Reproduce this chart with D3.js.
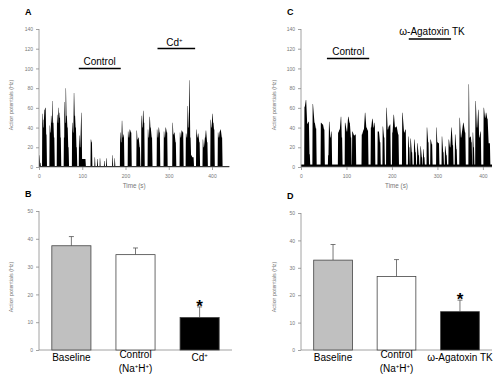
<!DOCTYPE html>
<html>
<head>
<meta charset="utf-8">
<script src="https://cdn.jsdelivr.net/npm/d3@7"></script>
<style>
body { margin: 0; background: #fff; }
text { font-family: "Liberation Sans", Arial, sans-serif; }
</style>
</head>
<body>
<div id="chart"></div>
<script>
// spike bursts: [time (s), rate (Hz)]
var burstsA = [
  [[1,12],[3,4]],
  [[8,54],[10,40],[11,48],[13,58],[15,60],[17,33]],
  [[25,42],[27,35],[28,52],[30,45],[31,67],[33,45],[35,30]],
  [[42,53],[44,45],[45,60],[47,50],[48,55],[50,30]],
  [[58,30],[59,66],[61,45],[62,80],[64,52],[66,40],[68,20]],
  [[77,45],[79,35],[81,75],[83,52],[85,40],[87,20]],
  [[93,32],[95,20],[98,55],[100,8],[104,8],[107,8]],
  [[120,28],[122,25]],
  [[129,10]], [[135,8]], [[141,9]], [[151,6]], [[156,9]], [[170,12]], [[175,9]],
  [[188,35],[190,25],[192,47],[194,30],[196,33]],
  [[206,36],[208,30],[210,38],[213,35]],
  [[226,37],[228,28],[230,30],[233,20]],
  [[237,52],[239,40],[241,57],[243,45]],
  [[252,38],[254,30],[256,51],[258,40],[261,30]],
  [[273,38],[275,30],[277,40],[279,35]],
  [[289,36],[291,30],[293,40],[296,35]],
  [[309,45],[311,33],[313,35],[316,25]],
  [[326,35],[328,30],[330,37],[333,35]],
  [[340,34],[342,30],[344,62],[346,40],[348,88],[350,30],[352,12],[355,10],[357,10]],
  [[364,38],[366,30],[368,34],[371,25]],
  [[379,28],[381,20],[384,30],[386,37],[389,25]],
  [[397,48],[399,40],[401,54],[403,45],[405,38]],
  [[414,35],[416,30],[418,36],[420,38],[423,30]]
];
var burstsC = [
  [[8,61],[11,68],[14,44],[17,46],[19,13]],
  [[26,64],[30,45],[33,39]],
  [[44,45],[48,43],[51,38]],
  [[60,12],[62,46],[65,30],[67,36]],
  [[82,35],[85,38],[88,51],[90,30]],
  [[97,45],[101,36],[104,51],[107,45],[110,30]],
  [[113,36],[117,32],[120,33]],
  [[134,33],[138,38],[141,55],[144,40],[147,37]],
  [[154,40],[157,49],[160,40],[162,45]],
  [[169,36],[171,36],[174,25]],
  [[180,41],[183,30]],
  [[188,60],[191,38],[193,41],[196,43]],
  [[201,35],[204,53],[207,40],[210,41],[214,33]],
  [[223,55],[227,35],[230,38]],
  [[236,31],[238,20]],
  [[241,29],[244,15]],
  [[249,28],[252,15]],
  [[256,24],[259,12]],
  [[263,21],[266,10]],
  [[269,18],[271,10]],
  [[277,40],[280,25]],
  [[285,28],[288,23]],
  [[298,40],[300,25],[303,24]],
  [[310,31],[313,15]],
  [[317,21],[320,12]],
  [[325,28],[328,20],[331,40],[334,22]],
  [[339,33],[342,18]],
  [[349,50],[352,30],[357,45],[361,35]],
  [[369,84],[371,30],[373,31],[375,25]],
  [[378,35],[380,20]],
  [[384,67],[387,40],[390,58],[392,30],[395,36]],
  [[402,60],[405,50],[407,55],[410,49],[413,24],[415,24]]
];
var baseA = 1, baseC = 2.5;
var timeTicks = [0, 100, 200, 300, 400];
var rateTicks = [0, 20, 40, 60, 80, 100, 120, 140];
var meanTicks = [0, 10, 20, 30, 40, 50];

var groupsB = ["Baseline", "Control", "Cd"];
var meansB = [37.5, 34.3, 11.7];
var errB = [3.3, 2.4, 3.8];
var groupsD = ["Baseline", "Control", "Agatoxin"];
var meansD = [32.8, 26.8, 14.0];
var errD = [5.7, 6.2, 4.2];
var barFills = ["#c0c0c0", "#ffffff", "#000000"];

var svg = d3.select("#chart").append("svg").attr("width", 500).attr("height", 378);
var axisCol = "#8a8a8a", tickCol = "#777";

function yAxisTitle(x, y) {
  svg.append("text").attr("transform", "translate(" + x + "," + y + ") rotate(-90)")
    .attr("text-anchor", "middle").attr("font-size", "5.3px").attr("fill", tickCol)
    .text("Action potentials (Hz)");
}

function styleAxis(g) {
  g.selectAll("path, line").attr("stroke", axisCol).attr("stroke-width", 0.8);
  g.selectAll("text").attr("font-size", "5px").attr("fill", tickCol)
    .attr("font-family", "Liberation Sans, Arial, sans-serif");
}

function trace(bursts, base, x, y) {
  var area = d3.area().x(function(d){ return x(d[0]); }).y0(y(0)).y1(function(d){ return y(d[1]); });
  svg.append("rect").attr("x", x(0)).attr("y", y(base)).attr("width", x.range()[1] - x(0))
    .attr("height", y(0) - y(base)).attr("fill", "#000");
  bursts.forEach(function(b) {
    var pts = [[b[0][0] - 1, 0]];
    b.forEach(function(p){ pts.push([p[0] - 0.4, p[1]]); pts.push([p[0] + 0.4, p[1]]); });
    pts.push([b[b.length - 1][0] + 1.5, 0]);
    svg.append("path").attr("d", area(pts)).attr("fill", "#000");
  });
  var gx = svg.append("g").attr("transform", "translate(0," + y(0) + ")")
    .call(d3.axisBottom(x).tickValues(timeTicks).tickSize(3).tickPadding(4));
  styleAxis(gx);
  var gy = svg.append("g").attr("transform", "translate(" + x(0) + ",0)")
    .call(d3.axisLeft(y).tickValues(rateTicks).tickSize(3).tickPadding(3));
  styleAxis(gy);
  gx.select(".domain").attr("d", "M" + x(0) + ",0H" + x.range()[1]);
  gy.select(".domain").attr("d", "M0," + y(0) + "V" + y(140));
  svg.append("text").attr("x", (x(0) + x.range()[1]) / 2).attr("y", y(0) + 21)
    .attr("text-anchor", "middle").attr("font-size", "6.3px").attr("fill", tickCol).text("Time (s)");
}

function bars(groups, means, errs, x, y) {
  var gy = svg.append("g").attr("transform", "translate(" + x.range()[0] + ",0)")
    .call(d3.axisLeft(y).tickValues(meanTicks).tickSize(3).tickPadding(3));
  styleAxis(gy);
  gy.select(".domain").attr("d", "M0," + y(0) + "V" + y(50));
  svg.append("line").attr("x1", x.range()[0]).attr("x2", x.range()[1])
    .attr("y1", y(0)).attr("y2", y(0)).attr("stroke", axisCol).attr("stroke-width", 0.8);
  groups.forEach(function(g, i) {
    var cx = x(g) + x.bandwidth() / 2;
    svg.append("line").attr("x1", cx).attr("x2", cx).attr("y1", y(means[i]))
      .attr("y2", y(means[i] + errs[i])).attr("stroke", "#555").attr("stroke-width", 0.8);
    svg.append("line").attr("x1", cx - 2.5).attr("x2", cx + 2.5).attr("y1", y(means[i] + errs[i]))
      .attr("y2", y(means[i] + errs[i])).attr("stroke", "#555").attr("stroke-width", 0.8);
    svg.append("rect").attr("x", x(g)).attr("y", y(means[i])).attr("width", x.bandwidth())
      .attr("height", y(0) - y(means[i])).attr("fill", barFills[i])
      .attr("stroke", "#444").attr("stroke-width", 0.8);
  });
}

function label(txt, x, y, size, anchor, weight) {
  return svg.append("text").attr("x", x).attr("y", y).attr("font-size", size + "px")
    .attr("text-anchor", anchor || "start").attr("font-weight", weight || "normal").text(txt);
}

function supLabel(main, sup, x, y, size, anchor, tail) {
  var t = svg.append("text").attr("x", x).attr("y", y).attr("font-size", size + "px")
    .attr("text-anchor", anchor || "start");
  t.append("tspan").text(main);
  t.append("tspan").attr("font-size", (size * 0.6) + "px").attr("dy", -size * 0.38).text(sup);
  if (tail) t.append("tspan").attr("dy", size * 0.38).text(tail);
  return t;
}

function treatmentBar(x, t0, t1, yy) {
  svg.append("line").attr("x1", x(t0)).attr("x2", x(t1)).attr("y1", yy).attr("y2", yy)
    .attr("stroke", "#000").attr("stroke-width", 1.6);
}

// Panel A
var xA = d3.scaleLinear().domain([0, 440]).range([39, 229.3]);
var yA = d3.scaleLinear().domain([0, 140]).range([167, 29]);
trace(burstsA, baseA, xA, yA);
yAxisTitle(13, 105);
label("A", 25, 15, 9, "start", "bold");
label("Control", xA(140), 65, 10, "middle");
treatmentBar(xA, 92, 189, 68.5);
supLabel("Cd", "+", xA(313), 46, 10, "middle");
treatmentBar(xA, 274, 361, 48.5);

// Panel C
var xC = d3.scaleLinear().domain([0, 420]).range([301, 492]);
var yC = d3.scaleLinear().domain([0, 140]).range([167, 29]);
trace(burstsC, baseC, xC, yC);
yAxisTitle(276, 105);
label("C", 287, 15, 9, "start", "bold");
label("Control", xC(104), 55, 10, "middle");
treatmentBar(xC, 57, 150, 58.5);
label("\u03c9-Agatoxin TK", xC(288), 35, 10, "middle");
treatmentBar(xC, 237, 330, 39);

// Panel B
var xB = d3.scaleBand().domain(groupsB).range([39, 232]).paddingInner(0.39).paddingOuter(0.2);
var yB = d3.scaleLinear().domain([0, 50]).range([350, 211]);
bars(groupsB, meansB, errB, xB, yB);
yAxisTitle(13, 287);
label("B", 25, 197, 9, "start", "bold");
label("Baseline", xB("Baseline") + xB.bandwidth() / 2, 361, 10, "middle");
label("Control", xB("Control") + xB.bandwidth() / 2, 358, 10, "middle");
var nb = supLabel("(Na", "+", xB("Control") + xB.bandwidth() / 2, 372, 10, "middle", "H");
nb.append("tspan").attr("font-size", "6px").attr("dy", -3.8).text("+");
nb.append("tspan").attr("dy", 3.8).text(")");
supLabel("Cd", "+", xB("Cd") + xB.bandwidth() / 2, 361, 10, "middle");
label("*", xB("Cd") + xB.bandwidth() / 2, yB(meansB[2] + errB[2]) + 5, 17, "middle", "bold");

// Panel D
var xD = d3.scaleBand().domain(groupsD).range([301, 492]).paddingInner(0.39).paddingOuter(0.2);
var yD = d3.scaleLinear().domain([0, 50]).range([350, 213]);
bars(groupsD, meansD, errD, xD, yD);
yAxisTitle(276, 287);
label("D", 287, 199, 9, "start", "bold");
label("Baseline", xD("Baseline") + xD.bandwidth() / 2, 361, 10, "middle");
label("Control", xD("Control") + xD.bandwidth() / 2, 358, 10, "middle");
var nd = supLabel("(Na", "+", xD("Control") + xD.bandwidth() / 2, 372, 10, "middle", "H");
nd.append("tspan").attr("font-size", "6px").attr("dy", -3.8).text("+");
nd.append("tspan").attr("dy", 3.8).text(")");
label("\u03c9-Agatoxin TK", xD("Agatoxin") + xD.bandwidth() / 2, 361, 10, "middle");
label("*", xD("Agatoxin") + xD.bandwidth() / 2, yD(meansD[2] + errD[2]) + 5, 17, "middle", "bold");
</script>
</body>
</html>
